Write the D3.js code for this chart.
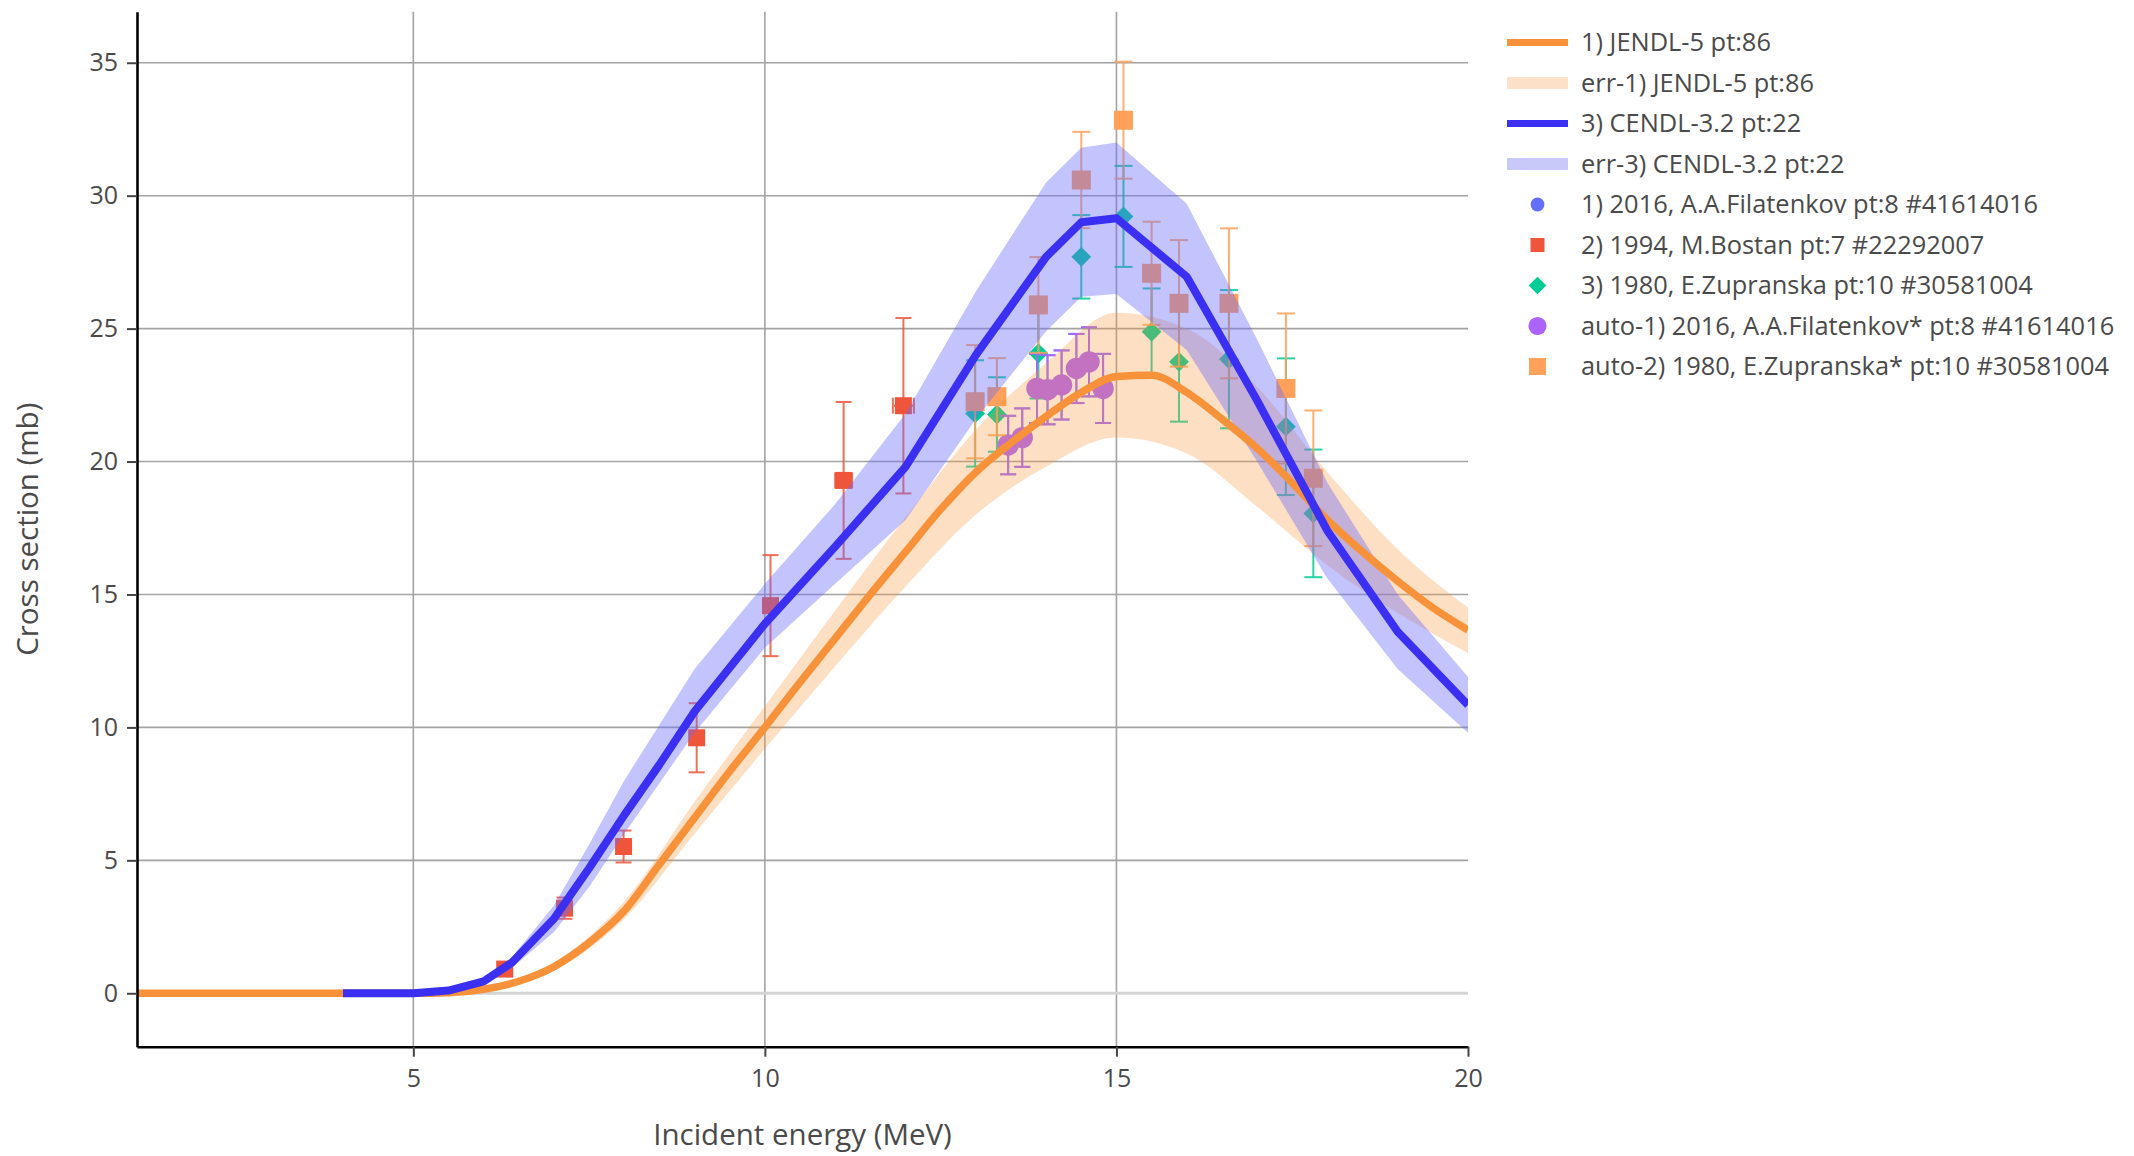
<!DOCTYPE html>
<html>
<head>
<meta charset="utf-8">
<script src="https://cdn.jsdelivr.net/npm/d3@7"></script>
<style>
  body { margin: 0; background: #fff; }
  svg { display: block; }
</style>
</head>
<body>
<svg id="chart"></svg>
<script>

/// DATA ////////////////////////////////////////////////////////////////////////////////

// 1) JENDL-5 evaluation (read off the curve)
var jendlE  = [1.07, 2, 3, 4, 5, 5.5, 6, 6.5, 7, 7.5, 8, 8.5, 9, 9.5, 10, 10.5, 11, 11.5, 12, 12.5,
               13, 13.5, 14, 14.5, 15, 15.5, 16, 16.5, 17, 17.5, 18, 18.5, 19, 19.5, 20];
var jendlXS = [0, 0, 0, 0, 0, 0.02, 0.15, 0.45, 1.0, 1.9, 3.1, 4.85, 6.6, 8.35, 10.0, 11.7, 13.35, 15.0, 16.6, 18.2,
               19.6, 20.7, 21.7, 22.6, 23.2, 23.25, 22.6, 21.6, 20.5, 19.2, 17.8, 16.6, 15.5, 14.5, 13.66];
// err-1) band edges
var jendlErrE = [5.5, 6, 7, 8, 9, 10, 11, 12, 13, 14, 15, 16, 17, 18, 19, 20];
var jendlHi   = [0.03, 0.2, 1.15, 3.45, 7.2, 10.8, 14.4, 17.9, 21.2, 23.7, 25.6, 25.0, 22.8, 19.6, 16.7, 14.5];
var jendlLo   = [0.01, 0.1, 0.85, 2.8, 6.0, 9.2, 12.3, 15.3, 18.0, 19.8, 20.9, 20.3, 18.3, 16.1, 14.3, 12.8];

// 3) CENDL-3.2 evaluation, 22 points
var cendlE  = [4, 5, 5.5, 6, 6.4, 7, 7.5, 8, 8.5, 9, 10, 11, 12, 13, 14, 14.5, 15, 16, 17, 18, 19, 20];
var cendlXS = [0, 0, 0.1, 0.45, 1.15, 2.8, 4.7, 6.7, 8.6, 10.6, 13.9, 16.8, 19.8, 24.0, 27.7, 29.0, 29.15, 26.95, 22.3, 17.4, 13.6, 10.84];
var cendlHi = [0, 0, 0.12, 0.55, 1.35, 3.3, 5.6, 8.0, 10.1, 12.2, 15.4, 18.4, 21.8, 26.4, 30.5, 31.8, 32.0, 29.7, 24.6, 19.2, 15.0, 11.9];
var cendlLo = [0, 0, 0.08, 0.35, 0.95, 2.3, 4.0, 6.0, 7.9, 9.8, 13.0, 15.4, 17.8, 21.6, 24.9, 26.2, 26.3, 24.2, 20.0, 15.6, 12.2, 9.8];

// 1) 2016 A.A.Filatenkov (and its auto-1 renormalised copy, drawn on top)
var filatE   = [13.46, 13.66, 13.87, 14.02, 14.22, 14.43, 14.61, 14.81];
var filatXS  = [20.62, 20.9, 22.75, 22.7, 22.88, 23.5, 23.75, 22.75];
var filatErr = [1.1, 1.1, 1.3, 1.3, 1.3, 1.3, 1.3, 1.3];

// 2) 1994 M.Bostan
var bostE    = [6.30, 7.15, 7.99, 9.03, 10.08, 11.12, 11.97];
var bostXS   = [0.91, 3.2, 5.52, 9.61, 14.58, 19.29, 22.1];
var bostErr  = [0.15, 0.4, 0.6, 1.3, 1.9, 2.95, 3.3];
var bostXErr = [0.06, 0.07, 0.08, 0.09, 0.1, 0.12, 0.15];

// 3) 1980 E.Zupranska and auto-2 renormalised copy
var zupE     = [12.99, 13.30, 13.89, 14.50, 15.10, 15.50, 15.89, 16.60, 17.41, 17.80];
var zupXS    = [21.81, 21.77, 24.07, 27.70, 29.22, 24.88, 23.75, 23.85, 21.31, 18.05];
var zupErr   = [2.0, 1.4, 1.7, 1.57, 1.9, 1.63, 2.25, 2.6, 2.57, 2.4];
var auto2XS  = [22.25, 22.44, 25.89, 30.59, 32.84, 27.08, 25.95, 25.95, 22.75, 19.37];
var auto2Err = [2.13, 1.45, 1.8, 1.81, 2.2, 1.94, 2.38, 2.82, 2.82, 2.55];

var xTicks = [5, 10, 15, 20];
var yTicks = [0, 5, 10, 15, 20, 25, 30, 35];

var legendLabels = [
    '1) JENDL-5 pt:86',
    'err-1) JENDL-5 pt:86',
    '3) CENDL-3.2 pt:22',
    'err-3) CENDL-3.2 pt:22',
    '1) 2016, A.A.Filatenkov pt:8 #41614016',
    '2) 1994, M.Bostan pt:7 #22292007',
    '3) 1980, E.Zupranska pt:10 #30581004',
    'auto-1) 2016, A.A.Filatenkov* pt:8 #41614016',
    'auto-2) 1980, E.Zupranska* pt:10 #30581004'
];

/// SETUP ///////////////////////////////////////////////////////////////////////////////

var WIDTH = 2134, HEIGHT = 1156;
var PLOT_LEFT = 137, PLOT_RIGHT = 1468, PLOT_TOP = 11.7, PLOT_BOTTOM = 1046.7;
var FONT = '"Open Sans", verdana, arial, sans-serif';
var TEXT_COLOR = '#4a4a4a';

var C_JENDL = '#f7923a', C_JENDL_BAND = 'rgba(250,150,60,0.30)';
var C_CENDL = '#3b2ff2', C_CENDL_BAND = 'rgba(105,105,250,0.40)';
var C_FILAT = '#636efa', C_BOST = '#EF553B', C_ZUP = '#00cc96', C_AUTO1 = '#ab63fa', C_AUTO2 = '#FFA15A';

var svg = d3.select('#chart')
    .attr('width', WIDTH)
    .attr('height', HEIGHT)
    .style('background', '#fff');

var x = d3.scaleLinear().domain([1.07, 20]).range([PLOT_LEFT, PLOT_RIGHT]);
var y = d3.scaleLinear().domain([-2.01, 36.92]).range([PLOT_BOTTOM, PLOT_TOP]);

svg.append('clipPath').attr('id', 'plotClip')
    .append('rect')
    .attr('x', PLOT_LEFT).attr('y', PLOT_TOP)
    .attr('width', PLOT_RIGHT - PLOT_LEFT).attr('height', PLOT_BOTTOM - PLOT_TOP);

/////////////////////////////////////////////////////////////////////////////////////////

function drawGrid() {
    var grid = svg.append('g');

    grid.selectAll('.hgrid')
        .data(yTicks.filter(function (d) { return d !== 0 }))
        .enter().append('line')
            .attr('x1', PLOT_LEFT).attr('x2', PLOT_RIGHT)
            .attr('y1', function (d) { return y(d) }).attr('y2', function (d) { return y(d) })
            .attr('stroke', '#a3a3a3').attr('stroke-width', 1.6);

    grid.selectAll('.vgrid')
        .data(xTicks.filter(function (d) { return d < 20 }))
        .enter().append('line')
            .attr('x1', function (d) { return x(d) }).attr('x2', function (d) { return x(d) })
            .attr('y1', PLOT_TOP).attr('y2', PLOT_BOTTOM)
            .attr('stroke', '#a3a3a3').attr('stroke-width', 1.6);

    // zero line
    grid.append('line')
        .attr('x1', PLOT_LEFT).attr('x2', PLOT_RIGHT)
        .attr('y1', y(0)).attr('y2', y(0))
        .attr('stroke', '#d4d4d4').attr('stroke-width', 3);
}

function drawErrorBars(g, xs, ys, errs, color, cap, xerrs) {
    var bars = g.append('g')
        .attr('stroke', color)
        .attr('stroke-width', 2)
        .attr('opacity', 0.85);

    xs.forEach(function (e, i) {
        var v = ys[i], err = errs[i];
        bars.append('line')
            .attr('x1', x(e)).attr('x2', x(e))
            .attr('y1', y(v - err)).attr('y2', y(v + err));
        [v - err, v + err].forEach(function (w) {
            bars.append('line')
                .attr('x1', x(e) - cap / 2).attr('x2', x(e) + cap / 2)
                .attr('y1', y(w)).attr('y2', y(w));
        });
        if (xerrs) {
            bars.append('line')
                .attr('x1', x(e - xerrs[i])).attr('x2', x(e + xerrs[i]))
                .attr('y1', y(v)).attr('y2', y(v));
            [e - xerrs[i], e + xerrs[i]].forEach(function (u) {
                bars.append('line')
                    .attr('x1', x(u)).attr('x2', x(u))
                    .attr('y1', y(v) - cap / 2).attr('y2', y(v) + cap / 2);
            });
        }
    });
}

function drawMarkers(g, xs, ys, type, area, color, rotate) {
    g.append('g').selectAll('path')
        .data(xs)
        .enter().append('path')
            .attr('d', d3.symbol().type(type).size(area))
            .attr('transform', function (d, i) {
                return 'translate(' + x(d) + ',' + y(ys[i]) + ')' + (rotate ? ' rotate(45)' : '');
            })
            .attr('fill', color);
}

function drawPoints() {
    var g = svg.append('g').attr('clip-path', 'url(#plotClip)');

    drawErrorBars(g, filatE, filatXS, filatErr, C_FILAT, 16);
    drawMarkers(g, filatE, filatXS, d3.symbolCircle, 180, C_FILAT);

    drawErrorBars(g, bostE, bostXS, bostErr, C_BOST, 16, bostXErr);
    drawMarkers(g, bostE, bostXS, d3.symbolSquare, 17 * 17, C_BOST);

    drawErrorBars(g, zupE, zupXS, zupErr, C_ZUP, 18);
    drawMarkers(g, zupE, zupXS, d3.symbolSquare, 14 * 14, C_ZUP, true);

    drawErrorBars(g, filatE, filatXS, filatErr, C_AUTO1, 16);
    drawMarkers(g, filatE, filatXS, d3.symbolCircle, 360, C_AUTO1);

    drawErrorBars(g, zupE, auto2XS, auto2Err, C_AUTO2, 18);
    drawMarkers(g, zupE, auto2XS, d3.symbolSquare, 19 * 19, C_AUTO2);
}

function drawCurves() {
    var g = svg.append('g').attr('clip-path', 'url(#plotClip)');

    var jendlBand = d3.area()
        .x(function (d, i) { return x(jendlErrE[i]) })
        .y0(function (d, i) { return y(jendlLo[i]) })
        .y1(function (d, i) { return y(jendlHi[i]) })
        .curve(d3.curveMonotoneX);

    var cendlBand = d3.area()
        .x(function (d, i) { return x(cendlE[i]) })
        .y0(function (d, i) { return y(cendlLo[i]) })
        .y1(function (d, i) { return y(cendlHi[i]) });

    g.append('path').datum(jendlErrE)
        .attr('d', jendlBand)
        .attr('fill', C_JENDL_BAND);

    g.append('path').datum(cendlE)
        .attr('d', cendlBand)
        .attr('fill', C_CENDL_BAND);

    var jendlLine = d3.line()
        .x(function (d, i) { return x(jendlE[i]) })
        .y(function (d, i) { return y(jendlXS[i]) })
        .curve(d3.curveMonotoneX);

    var cendlLine = d3.line()
        .x(function (d, i) { return x(cendlE[i]) })
        .y(function (d, i) { return y(cendlXS[i]) });

    g.append('path').datum(jendlE)
        .attr('d', jendlLine)
        .attr('fill', 'none')
        .attr('stroke', C_JENDL)
        .attr('stroke-width', 7.5)
        .attr('stroke-linejoin', 'round');

    g.append('path').datum(cendlE)
        .attr('d', cendlLine)
        .attr('fill', 'none')
        .attr('stroke', C_CENDL)
        .attr('stroke-width', 8)
        .attr('stroke-linejoin', 'round');
}

function drawAxes() {
    var xAxis = svg.append('g')
        .attr('transform', 'translate(0,' + PLOT_BOTTOM + ')')
        .call(d3.axisBottom(x).tickValues(xTicks).tickSize(10).tickSizeOuter(0).tickPadding(13));

    var yAxis = svg.append('g')
        .attr('transform', 'translate(' + PLOT_LEFT + ',0)')
        .call(d3.axisLeft(y).tickValues(yTicks).tickSize(10).tickSizeOuter(0).tickPadding(9));

    [xAxis, yAxis].forEach(function (a) {
        a.attr('font-family', FONT).attr('font-size', 25);
        a.select('.domain').attr('stroke', '#000').attr('stroke-width', 2.6);
        a.selectAll('.tick line').attr('stroke', '#444').attr('stroke-width', 2);
        a.selectAll('.tick text').attr('fill', TEXT_COLOR);
    });

    svg.append('text') // X-axis label
        .attr('x', (PLOT_LEFT + PLOT_RIGHT) / 2)
        .attr('y', 1145)
        .attr('text-anchor', 'middle')
        .attr('font-family', FONT)
        .attr('font-size', 29.5)
        .attr('fill', TEXT_COLOR)
        .text('Incident energy (MeV)');

    svg.append('text') // Y-axis label
        .attr('transform', 'translate(38,' + (PLOT_TOP + PLOT_BOTTOM) / 2 + ') rotate(-90)')
        .attr('text-anchor', 'middle')
        .attr('font-family', FONT)
        .attr('font-size', 29.5)
        .attr('fill', TEXT_COLOR)
        .text('Cross section (mb)');
}

function drawLegend() {
    var LEG_X0 = 1507, LEG_X1 = 1568, LEG_TEXT = 1581, LEG_TOP = 42.5, LEG_STEP = 40.5;
    var mid = (LEG_X0 + LEG_X1) / 2;

    var legend = svg.append('g');
    var rows = legend.selectAll('g')
        .data(legendLabels)
        .enter().append('g')
            .attr('transform', function (d, i) { return 'translate(0,' + (LEG_TOP + i * LEG_STEP) + ')' });

    rows.append('text')
        .attr('x', LEG_TEXT)
        .attr('dy', '0.35em')
        .attr('font-family', FONT)
        .attr('font-size', 25.4)
        .attr('fill', TEXT_COLOR)
        .text(function (d) { return d });

    var swatches = [
        { kind: 'line', color: C_JENDL, w: 7 },
        { kind: 'line', color: '#fde0c8', w: 12 },
        { kind: 'line', color: C_CENDL, w: 7 },
        { kind: 'line', color: '#c9c9f9', w: 12 },
        { kind: 'mark', type: d3.symbolCircle, area: 150, color: C_FILAT },
        { kind: 'mark', type: d3.symbolSquare, area: 14 * 14, color: C_BOST },
        { kind: 'mark', type: d3.symbolSquare, area: 12.5 * 12.5, color: C_ZUP, rot: true },
        { kind: 'mark', type: d3.symbolCircle, area: 260, color: C_AUTO1 },
        { kind: 'mark', type: d3.symbolSquare, area: 17 * 17, color: C_AUTO2 }
    ];

    rows.each(function (d, i) {
        var s = swatches[i], row = d3.select(this);
        if (s.kind === 'line') {
            row.append('line')
                .attr('x1', LEG_X0).attr('x2', LEG_X1)
                .attr('y1', 0).attr('y2', 0)
                .attr('stroke', s.color).attr('stroke-width', s.w);
        } else {
            row.append('path')
                .attr('d', d3.symbol().type(s.type).size(s.area))
                .attr('transform', 'translate(' + mid + ',0)' + (s.rot ? ' rotate(45)' : ''))
                .attr('fill', s.color);
        }
    });
}

drawGrid();
drawPoints();
drawCurves();
drawAxes();
drawLegend();

</script>
</body>
</html>
